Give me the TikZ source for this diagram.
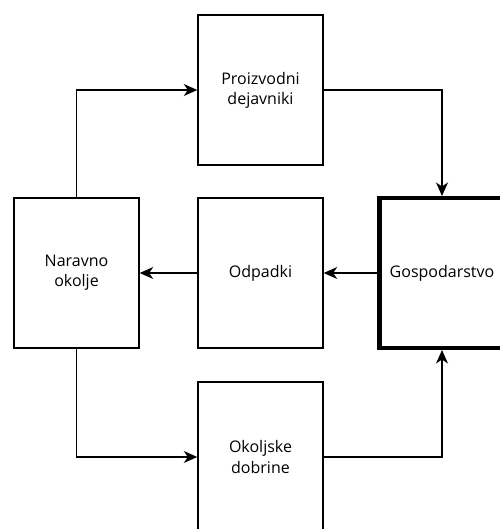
\documentclass[tikz,border=0pt]{standalone}
\usepackage{fontspec}
\setmainfont{Open Sans}
\usepackage{tikz}
\usetikzlibrary{arrows.meta}

\tikzset{
	blok/.style={draw, line width=0.8pt, rectangle, minimum width=2.5cm, minimum height=3cm, align=center, font=\fontsize{9.1}{11.4}\selectfont},
	tok/.style={line width=0.8pt, -{Stealth[length=0.27cm, width=0.24cm, inset=0.08cm]}}
}

\begin{document}
\begin{tikzpicture}
			\useasboundingbox (0,0) rectangle (10,10.58);
			\node[blok] (proizvodni) at (5.21,8.78) {Proizvodni\\dejavniki};
			\node[blok] (naravno) at (1.53,5.12) {Naravno\\okolje};
			\node[blok] (odpadki) at (5.21,5.12) {Odpadki};
			\node[blok, line width=2.3pt] (gospodarstvo) at (8.84,5.12) {Gospodarstvo};
			\node[blok] (okoljske) at (5.21,1.44) {Okoljske\\dobrine};
			\draw[tok] (naravno.north) |- (proizvodni.west);
			\draw[tok] (proizvodni.east) -| (gospodarstvo.north);
			\draw[tok] (gospodarstvo.west) -- (odpadki.east);
			\draw[tok] (odpadki.west) -- (naravno.east);
			\draw[tok] (naravno.south) |- (okoljske.west);
			\draw[tok] (okoljske.east) -| (gospodarstvo.south);
\end{tikzpicture}
\end{document}
